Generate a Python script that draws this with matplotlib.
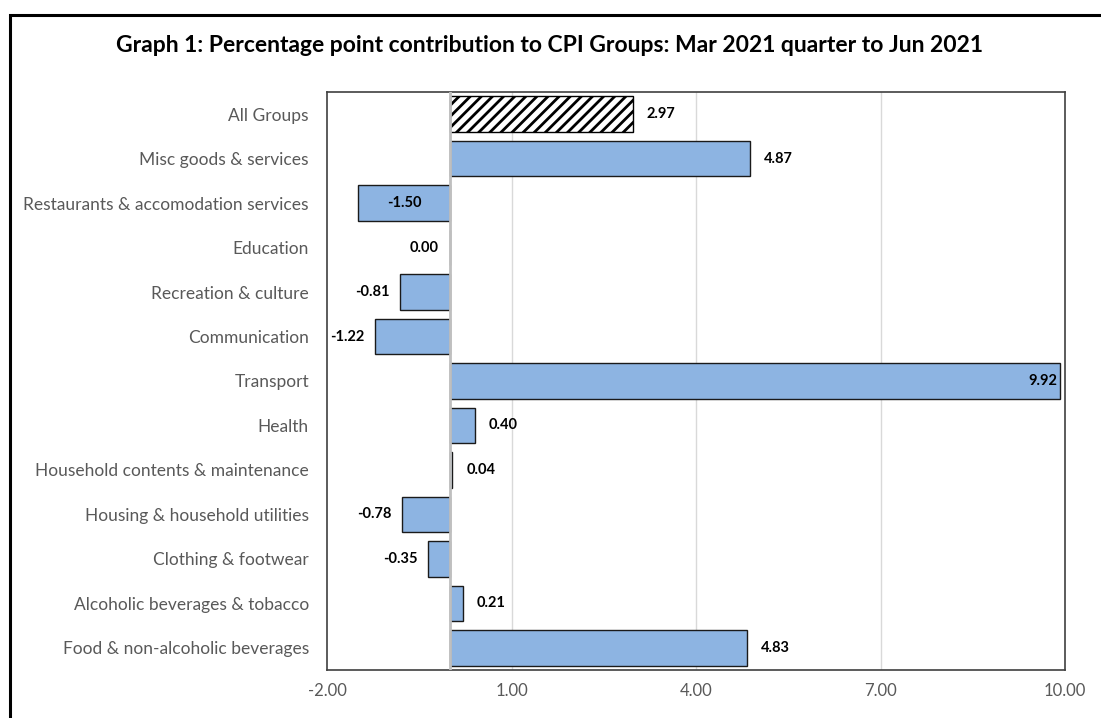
import matplotlib.pyplot as plt
from matplotlib.patches import Rectangle
import numpy as np

plt.rcParams['font.family'] = ['Lato', 'DejaVu Sans']
plt.rcParams['hatch.linewidth'] = 2.0

categories = ["All Groups", "Misc goods & services", "Restaurants & accomodation services",
              "Education", "Recreation & culture", "Communication", "Transport", "Health",
              "Household contents & maintenance", "Housing & household utilities",
              "Clothing & footwear", "Alcoholic beverages & tobacco",
              "Food & non-alcoholic beverages"]
values = [2.97, 4.87, -1.50, 0.00, -0.81, -1.22, 9.92, 0.40, 0.04, -0.78, -0.35, 0.21, 4.83]
xticks = [-2.0, 1.0, 4.0, 7.0, 10.0]

W, H = 1101, 718
fig = plt.figure(figsize=(W / 100, H / 100), dpi=100)
ax = fig.add_axes([327 / W, 1 - 670 / H, (1065 - 327) / W, (670 - 92) / H])

blue = "#8DB4E2"
pos = np.arange(len(categories))
for i, (c, v) in enumerate(zip(categories, values)):
    if c == "All Groups":
        ax.barh(i, v, height=0.8, color="white", edgecolor="black", hatch="///", linewidth=1, zorder=3)
    else:
        ax.barh(i, v, height=0.8, color=blue, edgecolor="#1a1a1a", linewidth=1, zorder=3)

ax.set_xlim(-2, 10)
ax.set_ylim(len(categories) - 0.5, -0.5)
ax.set_xticks(xticks)
ax.set_xticklabels([f"{t:.2f}" for t in xticks])
ax.set_yticks(pos)
ax.set_yticklabels(categories)
ax.tick_params(axis="both", length=0, labelsize=12.5, colors="#595959")
ax.tick_params(axis="x", labelsize=12)
ax.tick_params(axis="y", pad=13)
ax.tick_params(axis="x", pad=9)

for x in xticks[1:-1]:
    ax.axvline(x, color="#D9D9D9", linewidth=1, zorder=1)
ax.axvline(0, color="#BFBFBF", linewidth=2, zorder=4)

for s in ax.spines.values():
    s.set_color("#404040")
    s.set_linewidth(1.2)

# data labels, Excel style
px = 1 / 61.5
for i, v in enumerate(values):
    txt = f"{v:.2f}"
    if v >= 9:
        ax.text(v - 3 * px, i, txt, ha="right", va="center", fontsize=10.5, fontweight="bold", zorder=5)
    elif v < -1.4:
        ax.text(v / 2, i, txt, ha="center", va="center", fontsize=10.5, fontweight="bold", zorder=5)
    elif v > 0:
        ax.text(v + 14 * px, i, txt, ha="left", va="center", fontsize=10.5, fontweight="bold", zorder=5)
    else:
        ax.text(v - 11 * px, i, txt, ha="right", va="center", fontsize=10.5, fontweight="bold", zorder=5)

fig.text(550 / W, 1 - 46 / H,
         "Graph 1: Percentage point contribution to CPI Groups: Mar 2021 quarter to Jun 2021",
         ha="center", va="center", fontsize=16.5, fontweight="bold", color="black")

# outer chart frame (runs off the right/bottom of the picture)
fig.patches.append(Rectangle((10 / W, -0.1), 1.2, 1 - 15 / H + 0.1, transform=fig.transFigure,
                             fill=False, edgecolor="black", linewidth=2.2, clip_on=False))

fig.savefig("out.png", dpi=100)
